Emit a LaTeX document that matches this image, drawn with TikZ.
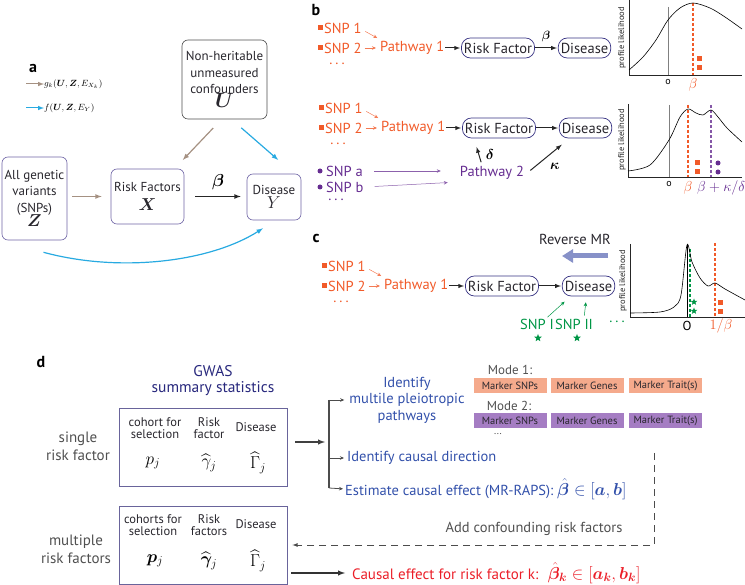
\documentclass[tikz,border=0pt]{standalone}
\usepackage{fontspec}
\setmainfont{PT Sans}
\usepackage{amsmath}
\usepackage{bm}
\usetikzlibrary{arrows,arrows.meta,calc,shapes,shapes.geometric}
\tikzset{>=latex}
\definecolor{snporange}{RGB}{241,90,41}
\definecolor{pwpurple}{RGB}{102,45,145}
\definecolor{dagline}{RGB}{110,100,165}
\definecolor{pillnavy}{RGB}{55,50,130}
\definecolor{txtdark}{RGB}{40,38,45}
\definecolor{txtgray}{RGB}{80,80,80}
\definecolor{txtblue}{RGB}{50,80,170}
\definecolor{gwasnavy}{RGB}{40,40,125}
\definecolor{gwasline}{RGB}{105,100,155}
\definecolor{snpgreen}{RGB}{0,150,70}
\definecolor{skyblue}{RGB}{40,170,225}
\definecolor{brownish}{RGB}{165,145,130}
\definecolor{revblue}{RGB}{135,145,200}
\definecolor{modeone}{RGB}{245,170,140}
\definecolor{modetwo}{RGB}{165,125,195}
\definecolor{effred}{RGB}{235,30,40}
\tikzstyle{panel}=[font=\fontsize{16}{16}\selectfont\bfseries,text=black,inner sep=0pt]
\tikzstyle{dag}=[rectangle,draw=dagline,line width=0.6pt,rounded corners=6pt,align=center,text=txtdark,font=\fontsize{13}{16.5}\selectfont,inner sep=0pt]
\tikzstyle{pill}=[rectangle,draw=pillnavy,line width=0.7pt,rounded corners=9pt,minimum height=20pt,inner xsep=2.5pt,inner ysep=0pt,text=txtdark,font=\fontsize{14.5}{15}\selectfont]
\tikzstyle{snp}=[text=snporange,font=\fontsize{14.5}{15}\selectfont,inner sep=1pt]
\tikzstyle{pwy}=[text=pwpurple,font=\fontsize{14.5}{15}\selectfont,inner sep=1pt]
\tikzstyle{gsnp}=[text=snpgreen,font=\fontsize{14.5}{15}\selectfont,inner sep=0pt]
\tikzstyle{sqm}=[rectangle,fill=snporange,minimum size=5pt,inner sep=0pt]
\tikzstyle{dotm}=[circle,fill=pwpurple,minimum size=5pt,inner sep=0pt]
\tikzstyle{starm}=[star,star points=5,star point ratio=2.3,fill=snpgreen,minimum size=8pt,inner sep=0pt]
\tikzstyle{thinarr}=[-{Stealth[length=4pt,width=3.5pt]},line width=0.5pt]
\tikzstyle{axis}=[line width=0.6pt,black!85]
\tikzstyle{curve}=[line width=0.6pt,black]
\tikzstyle{vdash}=[line width=1.1pt,dash pattern=on 3pt off 2pt]
\tikzstyle{plab}=[rotate=90,font=\fontsize{8.5}{9}\selectfont,text=black!85,inner sep=0pt]
\tikzstyle{tick}=[font=\fontsize{10}{10}\selectfont,inner sep=0pt]
\tikzstyle{gwasbox}=[rectangle,draw=gwasline,line width=0.8pt,minimum width=168pt,minimum height=78pt]
\tikzstyle{hdr}=[align=center,font=\fontsize{12.5}{11.5}\selectfont,text=txtdark,inner sep=0pt]
\tikzstyle{side}=[align=center,font=\fontsize{15}{18}\selectfont,text=txtgray,inner sep=0pt]
\tikzstyle{gmath}=[font=\fontsize{18}{18}\selectfont,inner sep=0pt]
\tikzstyle{blu}=[text=txtblue,font=\fontsize{14.5}{16.5}\selectfont,align=center,inner sep=0pt]
\tikzstyle{mbox}=[rectangle,minimum width=73pt,minimum height=15pt,inner sep=0pt,font=\fontsize{10.5}{11}\selectfont,text=txtdark]

\begin{document}
\begin{tikzpicture}[x=1pt,y=-1pt]
    \useasboundingbox (0,0) rectangle (745,585);

    % panel a
    \node[panel] (pa) at (33,68) {a};
    \coordinate (lg1) at (26,84);
    \coordinate (lg2) at (26,108);
    \node[anchor=west,inner sep=0pt,font=\fontsize{9}{9}\selectfont] (lgt1) at (44,84) {$g_k(\bm U,\bm Z,E_{X_k})$};
    \node[anchor=west,inner sep=0pt,font=\fontsize{9}{9}\selectfont] (lgt2) at (44,108) {$f(\bm U,\bm Z,E_Y)$};
    \draw[->,brownish,line width=1pt] (lg1) -- (lgt1.west);
    \draw[->,skyblue,line width=1pt] (lg2) -- (lgt2.west);

    \node[dag,draw=black!70,minimum width=85pt,minimum height=79pt] (U) at (224.5,79.5) {Non-heritable\\unmeasured\\confounders\\[-3pt]{\fontsize{22}{22}\selectfont$\bm U$}};
    \node[dag,minimum width=65pt,minimum height=83pt] (Z) at (34.5,198.5) {All genetic\\variants\\(SNPs)\\[-2pt]{\fontsize{17}{17}\selectfont$\bm Z$}};
    \node[dag,minimum width=73pt,minimum height=55pt] (X) at (147.5,196.5) {Risk Factors\\[2pt]{\fontsize{17}{17}\selectfont$\bm X$}};
    \node[dag,minimum width=54pt,minimum height=46pt] (Y) at (274,197) {Disease\\[-2pt]{\fontsize{17}{17}\selectfont$Y$}};

    \draw[->,brownish,line width=1.2pt,shorten <=5pt,shorten >=9pt] (Z.east |- X) -- (X);
    \draw[->,black!85,line width=1.2pt,shorten <=11pt,shorten >=6pt] (X) -- (Y.west |- X);
    \node[inner sep=0pt,font=\fontsize{16}{16}\selectfont] (beta) at (218,182) {$\bm\beta$};
    \draw[->,brownish,line width=1.2pt,shorten <=12pt,shorten >=12pt] ([xshift=-3pt]U.south) -- ([xshift=27pt]X.north);
    \draw[->,skyblue,line width=1.2pt,shorten <=13pt,shorten >=21pt] ([xshift=7pt]U.south) -- ([xshift=20pt]Y.north);
    \draw[->,skyblue,line width=1.2pt] ([xshift=9pt,yshift=-12pt]Z.south) .. controls (120,273) and (210,262) .. ([xshift=-11pt,yshift=-8pt]Y.south);

    % panel b and c rows
    \node[panel] (pb) at (316,10) {b};
    \node[panel] (pc) at (316,239) {c};
    \foreach \r/\y/\dx in {1/28/0, 2/108/1, 3/266/4} {
        \node[sqm] (qa\r) at (320+\dx,\y) {};
        \node[snp,anchor=west] (sa\r) at (323+\dx,\y) {SNP 1};
        \node[sqm] (qb\r) at (320+\dx,\y+20) {};
        \node[snp,anchor=west] (sb\r) at (323+\dx,\y+20) {SNP 2};
        \node[snp] (dt\r) at (337+\dx,\y+36) {.\hspace{3pt}.\hspace{3pt}.};
        \node[snp,anchor=west] (pw\r) at (379+\dx,\y+20) {Pathway 1};
        \node[pill] (rf\r) at (498+\dx,\y+20) {Risk Factor};
        \node[pill] (ds\r) at (584.5+\dx,\y+20) {Disease};

        \draw[thinarr,snporange!80,shorten <=3pt,shorten >=2pt] ([yshift=-2pt]sa\r.east) -- ([yshift=9pt]pw\r.west);
        \draw[thinarr,snporange!80,shorten <=2pt,shorten >=3pt] (sb\r) -- (pw\r);
        \draw[->,black!85,line width=1pt,shorten >=1pt] (pw\r) -- (rf\r);
        \draw[->,black!85,line width=1pt,shorten >=1pt] (rf\r) -- (ds\r);
    };
    \node[inner sep=0pt,font=\fontsize{12}{12}\selectfont] (betab) at (546,37) {$\bm\beta$};

    \node[dotm] (qc2) at (320,171) {};
    \node[pwy,anchor=west] (sc2) at (325,171) {SNP a};
    \node[dotm] (qd2) at (320,187) {};
    \node[pwy,anchor=west] (sd2) at (325,187) {SNP b};
    \node[pwy] (dtp) at (336,200) {.\hspace{3pt}.\hspace{3pt}.};
    \node[pwy] (pw2b) at (492,173) {Pathway 2};
    \draw[thinarr,pwpurple!75,shorten <=10pt,shorten >=18pt] (sc2.east) -- (pw2b.west |- sc2);
    \draw[thinarr,pwpurple!75,shorten <=10pt,shorten >=11pt] (sd2.east) -- ([yshift=-9pt]pw2b.west);
    \draw[->,black!85,line width=1pt,shorten <=3pt,shorten >=9pt] ([xshift=-10pt]pw2b.north) -- ([xshift=-25pt]rf2.south);
    \node[inner sep=0pt,font=\fontsize{14}{14}\selectfont] (delta) at (490,155) {$\bm\delta$};
    \draw[->,black!85,line width=1pt,shorten <=4pt,shorten >=10pt] ([xshift=2pt]pw2b.east) -- ([xshift=-16pt]ds2.south);
    \node[inner sep=0pt,font=\fontsize{14}{14}\selectfont] (kappa) at (555,166) {$\bm\kappa$};

    % reverse MR
    \node[inner sep=0pt,font=\fontsize{14.5}{15}\selectfont,text=txtdark] (rev) at (575,239) {Reverse MR};
    \coordinate (ra) at (608,256);
    \coordinate (rb) at (562,256);
    \draw[-{Triangle[length=11pt,width=13pt]},revblue,line width=5pt] (ra) -- (rb);

    \node[gsnp] (gI) at (537,324) {SNP I};
    \node[gsnp] (gII) at (574,324) {SNP II};
    \node[gsnp] (gdt) at (617,322) {.\hspace{3pt}.\hspace{3pt}.};
    \node[starm] (st1) at (538,338) {};
    \node[starm] (st2) at (577,338) {};
    \draw[thinarr,snpgreen,shorten <=2pt,shorten >=8pt] ([xshift=9pt]gI.north) -- ([xshift=-18pt]ds3.south);
    \draw[thinarr,snpgreen,shorten <=3pt,shorten >=6pt] ([xshift=10pt]gII.north) -- ([xshift=-2pt]ds3.south);

    % profile likelihood plots
    \node[plab] (pl1) at (622,38) {profile likelihood};
    \draw[axis] (629,0) -- (629,75) -- (742,75);
    \draw[gray,line width=0.9pt] (668,7) -- (668,75);
    \draw[vdash,snporange] (693,3) -- (693,75);
    \draw[curve] plot[smooth] coordinates {(629,70) (643,57) (656,40) (668,20) (680,8) (693,3) (710,8) (725,17) (742,29)};
    \node[sqm] (m11) at (699,59) {};
    \node[sqm] (m12) at (699,68) {};
    \node[tick] (o1) at (668,82) {o};
    \node[tick,text=snporange,font=\fontsize{15}{15}\selectfont] (b1) at (693,85) {$\beta$};

    \node[plab] (pl2) at (622,140) {profile likelihood};
    \draw[axis] (628,104) -- (628,177) -- (742,177);
    \draw[gray,line width=0.9pt] (669,105) -- (669,177);
    \draw[vdash,snporange] (688,105) -- (688,177);
    \draw[vdash,pwpurple!80] (711,105) -- (711,177);
    \draw[curve] plot[smooth] coordinates {(628,171) (650,165) (669,140) (680,117) (688,109) (696,113) (703,115) (711,110) (718,117) (727,128) (742,142)};
    \node[sqm] (m21) at (697,163) {};
    \node[sqm] (m22) at (697,172) {};
    \node[dotm] (m23) at (718,163) {};
    \node[dotm] (m24) at (718,172) {};
    \node[tick] (o2) at (669,184) {o};
    \node[tick,text=snporange,font=\fontsize{15}{15}\selectfont] (b2) at (688,188) {$\beta$};
    \node[tick,anchor=west,text=pwpurple,font=\fontsize{15}{15}\selectfont] (b3) at (697,188) {$\beta+\kappa/\delta$};

    \node[plab] (pl3) at (623,281) {profile likelihood};
    \draw[axis] (630,244) -- (630,317) -- (745,317);
    \draw[black,line width=0.9pt] (687,245) -- (687,317);
    \draw[vdash,snpgreen] (690,249) -- (690,317);
    \draw[vdash,snporange] (715,243) -- (715,317);
    \draw[curve] plot[smooth] coordinates {(630,313) (660,312) (674,307) (681,295) (687,245) (692,262) (700,278) (708,286) (715,283) (725,289) (745,300)};
    \node[starm,minimum size=7pt] (m31) at (694,302) {};
    \node[starm,minimum size=7pt] (m32) at (694,311) {};
    \node[sqm] (m33) at (720,303) {};
    \node[sqm] (m34) at (720,312) {};
    \node[tick,font=\fontsize{13}{13}\selectfont] (o3) at (687,326) {O};
    \node[tick,text=snporange,font=\fontsize{15}{15}\selectfont] (b4) at (721,326) {$1/\beta$};

    % panel d
    \node[panel] (pd) at (41,362) {d};
    \node[align=center,text=gwasnavy,font=\fontsize{15.5}{16}\selectfont,inner sep=0pt] (gw) at (213,381) {GWAS\\summary statistics};
    \node[gwasbox] (g1) at (203,447) {};
    \node[gwasbox] (g2) at (203,545) {};
    \node[side] (sr) at (78,446) {single\\risk factor};
    \node[side] (mr) at (76,549) {multiple\\risk factors};

    \node[hdr] (h11) at (155,428) {cohort for\\selection};
    \node[hdr] (h12) at (209,428) {Risk\\factor};
    \node[hdr] (h13) at (256,427) {Disease};
    \node[gmath] (v11) at (153,463) {$p_j$};
    \node[gmath] (v12) at (209,463) {$\widehat\gamma_j$};
    \node[gmath] (v13) at (258,463) {$\widehat\Gamma_j$};
    \node[hdr] (h21) at (153,525) {cohorts for\\selection};
    \node[hdr] (h22) at (209,525) {Risk\\factors};
    \node[hdr] (h23) at (256,524) {Disease};
    \node[gmath] (v21) at (155,561) {$\bm p_j$};
    \node[gmath] (v22) at (209,561) {$\widehat{\bm\gamma}_j$};
    \node[gmath] (v23) at (258,561) {$\widehat\Gamma_j$};

    \coordinate (brt) at (329,400);
    \coordinate (brc) at (329,442);
    \coordinate (brm) at (329,458);
    \coordinate (brb) at (329,488);
    \node[blu] (id1) at (407,400) {Identify\\multile pleiotropic\\pathways};
    \node[blu,anchor=west] (id2) at (347,458) {Identify causal direction};
    \node[blu,anchor=west] (id3) at (345,489) {Estimate causal effect (MR-RAPS): {\fontsize{16}{16}\selectfont$\hat{\bm\beta}\in[\bm a,\bm b]$}};
    \draw[->,black!75,line width=1.4pt,shorten <=8pt,shorten >=4pt] (g1.east |- brc) -- (brc);
    \draw[black!70,line width=1.4pt] (brt) -- (brb);
    \draw[thinarr,black!70,line width=0.8pt,shorten >=5pt] (brt) -- (brt -| id1.west);
    \draw[thinarr,black!70,line width=0.8pt,shorten >=3pt] (brm) -- (id2.west);
    \draw[thinarr,black!70,line width=0.8pt,shorten >=2pt] (brb) -- (id3.west);

    \node[inner sep=0pt,text=txtgray,font=\fontsize{13}{13}\selectfont] (md1) at (510,370) {Mode 1:};
    \node[inner sep=0pt,text=txtgray,font=\fontsize{13}{13}\selectfont] (md2) at (509,406) {Mode 2:};
    \foreach \k/\x/\t in {1/510/Marker SNPs, 2/587/Marker Genes, 3/665.5/Marker Trait(s)} {
        \node[mbox,fill=modeone] (ma\k) at (\x,386) {\t};
        \node[mbox,fill=modetwo] (mb\k) at (\x,421) {\t};
    };
    \node[inner sep=0pt,text=txtgray] (mdots) at (498,434) {...};

    \coordinate (dtop) at (654,453);
    \coordinate (dbot) at (654,545);
    \draw[->,black!70,line width=0.8pt,dash pattern=on 7pt off 5pt,shorten >=5pt] (dtop) -- (dbot) -- (dbot -| g2.east);
    \node[inner sep=0pt,text=txtgray,font=\fontsize{14.5}{15}\selectfont] (acf) at (534,529) {Add confounding risk factors};

    \node[anchor=west,inner sep=0pt,text=effred,font=\fontsize{15}{15}\selectfont] (ce) at (352,573) {Causal effect for risk factor k:~ {\fontsize{18.5}{18.5}\selectfont$\hat{\bm\beta}_{\bm k}\in[\bm a_{\bm k},\bm b_{\bm k}]$}};
    \draw[->,black!80,line width=1.4pt,shorten <=4pt,shorten >=7pt] (g2.east |- ce) -- (ce.west);
\end{tikzpicture}
\end{document}
